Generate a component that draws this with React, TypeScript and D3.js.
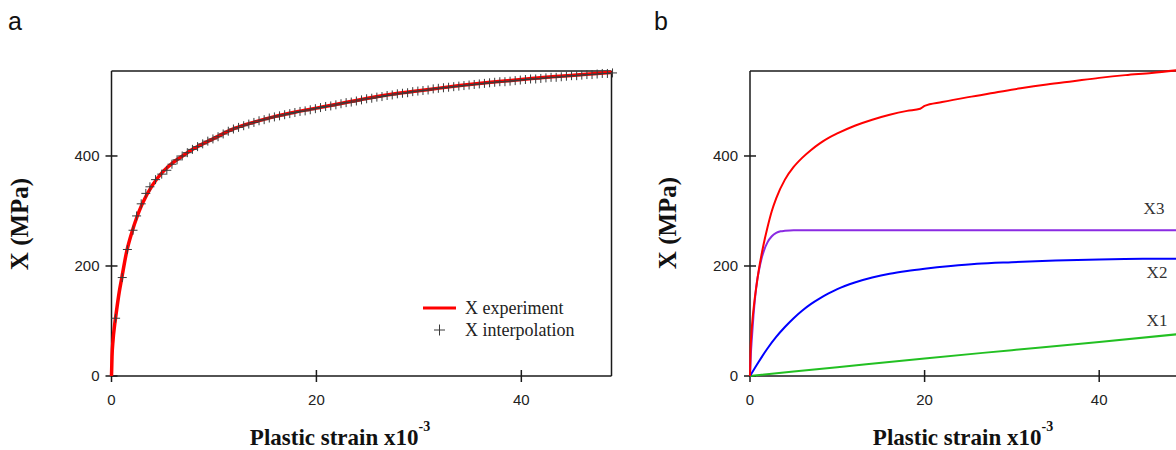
import React from "react";
import * as d3 from "d3";

// ---------- DATA ----------
// Panel a: experimental curve
const expStrain = [0, 0.05, 0.15, 0.3, 0.5, 0.75, 1, 1.5, 2, 2.5, 3, 4, 5, 6, 7, 8, 10, 12, 14, 16, 18, 20, 22, 25, 28, 31, 34, 37, 40, 43, 46, 48.8];
const expX = [0, 35, 65, 92, 120, 152, 178, 228, 262, 290, 313, 347, 371, 388, 401, 413, 432, 450, 462, 472, 480, 487, 494, 505, 514, 521, 528, 534, 539, 544, 548, 552];

// Panel a: interpolation markers
const interpStrain = [0.4, 1.05, 1.55, 2.1, 2.45, 2.9, 3.35, 3.75, 4.3, 4.9, 5.4, 5.9, 6.4, 6.9, 7.4, 7.9, 8.4, 8.9, 9.4, 9.9, 10.4, 10.9, 11.4, 11.9, 12.4, 12.9, 13.4, 13.9, 14.4, 14.9, 15.4, 15.9, 16.4, 16.9, 17.4, 17.9, 18.4, 18.9, 19.4, 19.9, 20.4, 20.9, 21.4, 21.9, 22.4, 22.9, 23.4, 23.9, 24.4, 24.9, 25.4, 25.9, 26.4, 26.9, 27.4, 27.9, 28.4, 28.9, 29.4, 29.9, 30.4, 30.9, 31.4, 31.9, 32.4, 32.9, 33.4, 33.9, 34.4, 34.9, 35.4, 35.9, 36.4, 36.9, 37.4, 37.9, 38.4, 38.9, 39.4, 39.9, 40.4, 40.9, 41.4, 41.9, 42.4, 42.9, 43.4, 43.9, 44.4, 44.9, 45.4, 45.9, 46.4, 46.9, 47.4, 47.9, 48.4, 48.9];
const interpX = [105, 179, 230, 265, 291, 313, 332, 344, 357, 367, 374, 385, 393, 400, 406, 412, 417, 422, 427, 431, 435, 440, 445, 449, 452, 455, 458, 461, 464, 466, 469, 471, 473, 475, 477, 479, 481, 482, 484, 486, 488, 490, 491, 493, 495, 497, 498, 500, 502, 504, 505, 507, 508, 510, 511, 513, 514, 515, 517, 518, 519, 520, 522, 523, 524, 525, 526, 527, 528, 529, 530, 531, 532, 533, 534, 535, 535, 536, 537, 538, 539, 540, 540, 541, 542, 543, 543, 544, 545, 546, 546, 547, 548, 548, 549, 550, 550, 551];

// Panel b: total hardening and its components
const totStrain = [0, 0.05, 0.15, 0.3, 0.5, 0.75, 1, 1.5, 2, 2.5, 3, 4, 5, 6, 7, 8, 9, 10, 12, 14, 16, 18, 19.5, 20, 22, 25, 28, 31, 34, 37, 40, 43, 46, 49];
const totX = [0, 40, 75, 105, 135, 165, 192, 235, 270, 300, 323, 357, 380, 397, 411, 423, 433, 441, 455, 466, 475, 482, 486, 491, 498, 507, 515, 523, 530, 536, 542, 547, 551, 556];

const x3Strain = [0, 0.1, 0.2, 0.4, 0.6, 0.8, 1.0, 1.3, 1.6, 2, 2.5, 3, 3.5, 4, 5, 6, 8, 49];
const x3Vals = [0, 40, 65, 110, 145, 172, 190, 212, 228, 243, 254, 260, 263, 264, 265, 265, 265, 265];

const x2Strain = [0, 1, 2, 3, 4, 5, 6, 7, 8, 9, 10, 12, 14, 16, 18, 20, 23, 26, 30, 35, 40, 45, 49];
const x2Vals = [0, 26, 50, 71, 89, 105, 119, 131, 141, 150, 158, 170, 179, 186, 191, 195, 200, 204, 207, 210, 212, 213, 213];

const x1Strain = [0, 10, 20, 30, 40, 49];
const x1Vals = [0, 16, 32, 47, 62, 76];

const xTicks = [0, 20, 40];
const yTicks = [0, 200, 400];
const legendLabels = ["X experiment", "X interpolation"];
const componentLabels = ["X3", "X2", "X1"];

// ---------- LAYOUT ----------
const W = 1176;
const H = 450;
const top = 71;
const bottom = 376;
const yMax = 554.5;

const serif = "'Liberation Serif', 'Times New Roman', serif";
const sans = "'Liberation Sans', Arial, sans-serif";
const axisColor = "#1a1a1a";

type Pt = [number, number];
const zip = (a: number[], b: number[]): Pt[] => a.map((v, i) => [v, b[i]]);

function Axes({ x, y, right, showRight }: { x: d3.ScaleLinear<number, number>; y: d3.ScaleLinear<number, number>; right: number; showRight: boolean }) {
  const left = x(0);
  return (
    <g>
      <line x1={left} x2={right} y1={top} y2={top} stroke={axisColor} strokeWidth={1.5} />
      <line x1={left} x2={right} y1={bottom} y2={bottom} stroke={axisColor} strokeWidth={1.5} />
      <line x1={left} x2={left} y1={top} y2={bottom} stroke={axisColor} strokeWidth={1.5} />
      {showRight && <line x1={right} x2={right} y1={top} y2={bottom} stroke={axisColor} strokeWidth={1.5} />}
      {xTicks.map((t) => (
        <g key={"x" + t}>
          <line x1={x(t)} x2={x(t)} y1={bottom - 6} y2={bottom + 6} stroke={axisColor} strokeWidth={1.5} />
          <text x={x(t)} y={405} textAnchor="middle" fontFamily={sans} fontSize={15} fill="#222">{t}</text>
        </g>
      ))}
      {yTicks.map((t) => (
        <g key={"y" + t}>
          <line x1={left - 6} x2={left + 6} y1={y(t)} y2={y(t)} stroke={axisColor} strokeWidth={1.5} />
          <text x={left - 12} y={y(t) + 5} textAnchor="end" fontFamily={sans} fontSize={15} fill="#222">{t}</text>
        </g>
      ))}
    </g>
  );
}

function Titles({ cx, ylx, cy }: { cx: number; ylx: number; cy: number }) {
  return (
    <g>
      <text x={cx} y={445} textAnchor="middle" fontFamily={serif} fontWeight="bold" fontSize={23} fill="#111">
        Plastic strain x10
        <tspan dy={-14} fontSize={14}>-3</tspan>
      </text>
      <text transform={`translate(${ylx},${cy}) rotate(-90)`} textAnchor="middle" fontFamily={serif} fontWeight="bold" fontSize={25} fill="#111">
        X (MPa)
      </text>
    </g>
  );
}

export default function App() {
  // Panel a scales
  const xa = d3.scaleLinear().domain([0, 48.8]).range([111.5, 611.5]);
  const ya = d3.scaleLinear().domain([0, yMax]).range([bottom, top]);
  // Panel b scales
  const xb = d3.scaleLinear().domain([0, 49]).range([750, 750 + 49 * 8.73]);
  const yb = ya;

  const lineA = d3.line<Pt>().x((d) => xa(d[0])).y((d) => ya(d[1])).curve(d3.curveMonotoneX);
  const lineB = d3.line<Pt>().x((d) => xb(d[0])).y((d) => yb(d[1])).curve(d3.curveMonotoneX);

  const markers = zip(interpStrain, interpX);
  const ms = 4.5;

  return (
    <svg width={W} height={H} style={{ position: "absolute", left: 0, top: 0, background: "#fff" }}>
      <rect x={0} y={0} width={W} height={H} fill="#fff" />
      {/* Panel labels */}
      <text x={8} y={30} fontFamily={sans} fontSize={25} fill="#111">a</text>
      <text x={654} y={30} fontFamily={sans} fontSize={25} fill="#111">b</text>

      {/* ---------- Panel a ---------- */}
      <Axes x={xa} y={ya} right={611.5} showRight={true} />
      <path d={lineA(zip(expStrain, expX)) || ""} fill="none" stroke="#ff0000" strokeWidth={3.5} />
      <g stroke="#3a3a3a" strokeWidth={1}>
        {markers.map((d, i) => (
          <g key={i}>
            <line x1={xa(d[0]) - ms} x2={xa(d[0]) + ms} y1={ya(d[1])} y2={ya(d[1])} />
            <line x1={xa(d[0])} x2={xa(d[0])} y1={ya(d[1]) - ms} y2={ya(d[1]) + ms} />
          </g>
        ))}
      </g>
      {/* legend */}
      <line x1={423} x2={456} y1={308} y2={308} stroke="#ff0000" strokeWidth={3} />
      <text x={465} y={313.5} fontFamily={serif} fontSize={18} fill="#222">{legendLabels[0]}</text>
      <g stroke="#3a3a3a" strokeWidth={1}>
        <line x1={434} x2={445} y1={330} y2={330} />
        <line x1={439.5} x2={439.5} y1={324.5} y2={335.5} />
      </g>
      <text x={465} y={335.5} fontFamily={serif} fontSize={18} fill="#222">{legendLabels[1]}</text>
      <Titles cx={340} ylx={28} cy={224} />

      {/* ---------- Panel b ---------- */}
      <Axes x={xb} y={yb} right={1180} showRight={false} />
      <path d={lineB(zip(x1Strain, x1Vals)) || ""} fill="none" stroke="#22c022" strokeWidth={2} />
      <path d={lineB(zip(x2Strain, x2Vals)) || ""} fill="none" stroke="#0000ff" strokeWidth={2} />
      <path d={lineB(zip(x3Strain, x3Vals)) || ""} fill="none" stroke="#8a2be2" strokeWidth={2} />
      <path d={lineB(zip(totStrain, totX)) || ""} fill="none" stroke="#ff0000" strokeWidth={2} />
      <text x={1154} y={214} textAnchor="middle" fontFamily={serif} fontSize={17} fill="#333">{componentLabels[0]}</text>
      <text x={1157} y={278} textAnchor="middle" fontFamily={serif} fontSize={17} fill="#333">{componentLabels[1]}</text>
      <text x={1157} y={326} textAnchor="middle" fontFamily={serif} fontSize={17} fill="#333">{componentLabels[2]}</text>
      <Titles cx={963} ylx={676} cy={223} />
    </svg>
  );
}
